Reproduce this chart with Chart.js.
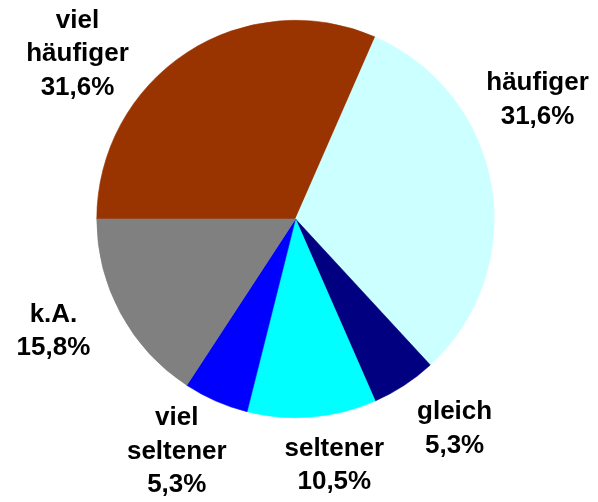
<!DOCTYPE html>
<html>
<head>
<meta charset="utf-8">
<script src="https://cdn.jsdelivr.net/npm/chart.js@4/dist/chart.umd.min.js"></script>
<style>
  html, body { margin: 0; padding: 0; background: #ffffff; }
  #wrap { width: 598px; height: 502px; }
</style>
</head>
<body>
<div id="wrap"><canvas id="c" width="598" height="502"></canvas></div>
<script>
// ---- data ----
const categories = ["viel\nhäufiger", "häufiger", "gleich", "seltener", "viel\nseltener", "k.A."];
const values = [31.6, 31.6, 5.3, 10.5, 5.3, 15.8];
const valueLabels = ["31,6%", "31,6%", "5,3%", "10,5%", "5,3%", "15,8%"];
const colors = ["#993300", "#CCFFFF", "#000080", "#00FFFF", "#0000FF", "#808080"];

// label layout: [angle shift from slice middle (deg), distance from centre as share of radius]
const labelShift = [-19.7, -16.7, -4.0, -4.2, 3.4, 3.5];
const labelDist = [1.376, 1.358, 1.325, 1.254, 1.314, 1.343];

const outsideLabels = {
  id: 'outsideLabels',
  afterDatasetsDraw(chart) {
    const ctx = chart.ctx;
    const meta = chart.getDatasetMeta(0);
    ctx.save();
    ctx.font = 'bold 26px "Liberation Sans", Arial, sans-serif';
    ctx.fillStyle = '#000000';
    ctx.textAlign = 'center';
    ctx.textBaseline = 'middle';
    const lh = 33.5;
    meta.data.forEach((arc, i) => {
      const p = arc.getProps(['x', 'y', 'startAngle', 'endAngle', 'outerRadius'], true);
      const mid = (p.startAngle + p.endAngle) / 2 + labelShift[i] * Math.PI / 180;
      const r = p.outerRadius * labelDist[i];
      const cx = p.x + Math.cos(mid) * r;
      const cy = p.y + Math.sin(mid) * r;
      const lines = categories[i].split("\n").concat([valueLabels[i]]);
      const top = cy - (lines.length - 1) * lh / 2;
      lines.forEach((t, k) => ctx.fillText(t, cx, top + k * lh));
    });
    ctx.restore();
  }
};

new Chart(document.getElementById('c'), {
  type: 'pie',
  data: {
    labels: categories,
    datasets: [{
      data: values,
      backgroundColor: colors,
      borderColor: colors,
      borderWidth: 0.6,
      hoverOffset: 0
    }]
  },
  options: {
    responsive: false,
    animation: false,
    rotation: -90,
    layout: { padding: { left: 96, right: 103, top: 20, bottom: 84 } },
    plugins: {
      legend: { display: false },
      tooltip: { enabled: false }
    }
  },
  plugins: [outsideLabels]
});
</script>
</body>
</html>
